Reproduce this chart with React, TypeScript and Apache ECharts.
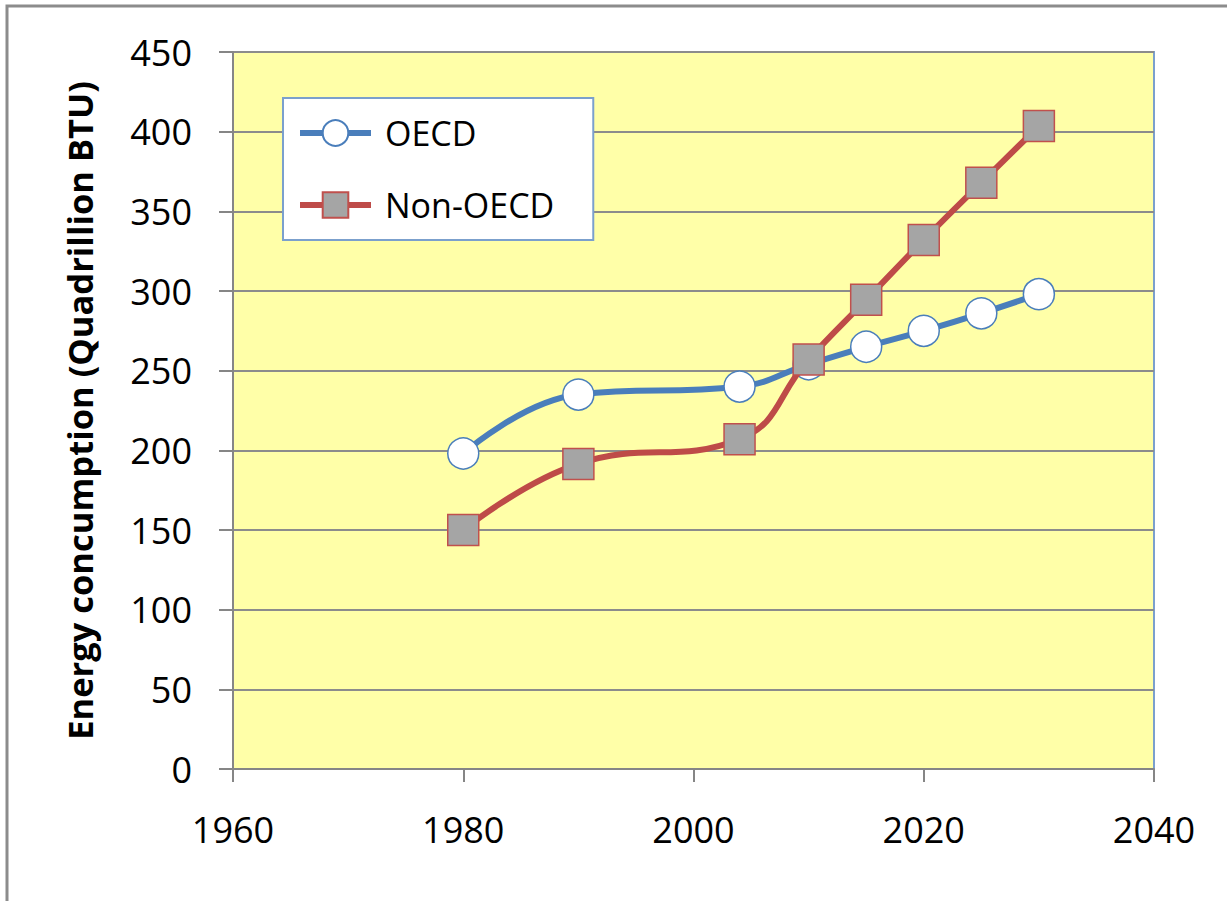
import React, { useEffect, useRef } from "react";
import * as echarts from "echarts";

const years = [1980, 1990, 2004, 2010, 2015, 2020, 2025, 2030];
const oecd = [198, 235, 240, 254, 265, 275, 286, 298];
const nonOecd = [150, 191.5, 207, 257, 294.5, 332, 368, 403.5];
const seriesNames = ["OECD", "Non-OECD"];
const yAxisTitle = "Energy concumption (Quadrillion BTU)";

const FONT = "'Open Sans', 'Noto Sans', sans-serif";

export default function App() {
  const ref = useRef<HTMLDivElement>(null);
  useEffect(() => {
    if (!ref.current) return;
    const chart = echarts.init(ref.current, undefined, { renderer: "svg" });
    chart.setOption({
      animation: false,
      backgroundColor: "#ffffff",
      textStyle: { fontFamily: FONT },
      graphic: [
        {
          type: "rect",
          shape: { x: 7, y: 6, width: 1400, height: 1100 },
          style: { fill: "none", stroke: "#8c8c8c", lineWidth: 3 },
          z: 100,
          silent: true,
        },
      ],
      grid: {
        left: 233,
        right: 73,
        top: 52,
        bottom: 132,
        show: true,
        backgroundColor: "#ffffa8",
        borderColor: "#7ba0cd",
        borderWidth: 2,
      },
      legend: {
        orient: "vertical",
        left: 283,
        top: 98,
        backgroundColor: "#ffffff",
        borderColor: "#7ba0cd",
        borderWidth: 2,
        padding: [18, 39, 18, 14],
        itemWidth: 71,
        itemHeight: 32,
        itemGap: 38,
        lineStyle: { width: 6 },
        textStyle: { fontSize: 34, color: "#000", fontFamily: FONT, padding: [0, 0, 0, 9] },
        data: seriesNames,
      },
      xAxis: {
        type: "value",
        min: 1960,
        max: 2040,
        interval: 20,
        axisLine: { show: true, lineStyle: { color: "#868686", width: 2 } },
        axisTick: { show: true, length: 13, lineStyle: { color: "#868686", width: 2 } },
        axisLabel: {
          fontSize: 36,
          color: "#000",
          margin: 42,
          fontFamily: FONT,
          formatter: (v: number) => String(v),
        },
        splitLine: { show: false },
      },
      yAxis: {
        type: "value",
        min: 0,
        max: 450,
        interval: 50,
        name: yAxisTitle,
        nameLocation: "middle",
        nameGap: 136,
        nameTextStyle: { fontSize: 34.5, fontWeight: "bold", color: "#000", fontFamily: FONT },
        axisLine: { show: true, lineStyle: { color: "#868686", width: 2 } },
        axisTick: { show: true, inside: false, length: 14, lineStyle: { color: "#868686", width: 2 } },
        axisLabel: { fontSize: 36, color: "#000", margin: 41, fontFamily: FONT },
        splitLine: { show: true, lineStyle: { color: "#8c8c8c", width: 2 } },
      },
      series: [
        {
          name: seriesNames[0],
          type: "line",
          data: years.map((y, i) => [y, oecd[i]]),
          smooth: 0.45,
          symbol: "circle",
          symbolSize: 31,
          lineStyle: { color: "#4a7ebb", width: 6 },
          itemStyle: { color: "#ffffff", borderColor: "#4a7ebb", borderWidth: 1.5 },
          z: 2,
        },
        {
          name: seriesNames[1],
          type: "line",
          data: years.map((y, i) => [y, nonOecd[i]]),
          smooth: 0.45,
          symbol: "rect",
          symbolSize: 31,
          lineStyle: { color: "#be4b48", width: 6 },
          itemStyle: { color: "#a5a5a5", borderColor: "#c0504d", borderWidth: 1.5 },
          z: 3,
        },
      ],
    });
    return () => chart.dispose();
  }, []);
  return (
    <div
      ref={ref}
      style={{ position: "fixed", left: 0, top: 0, width: 1227, height: 901 }}
    />
  );
}
